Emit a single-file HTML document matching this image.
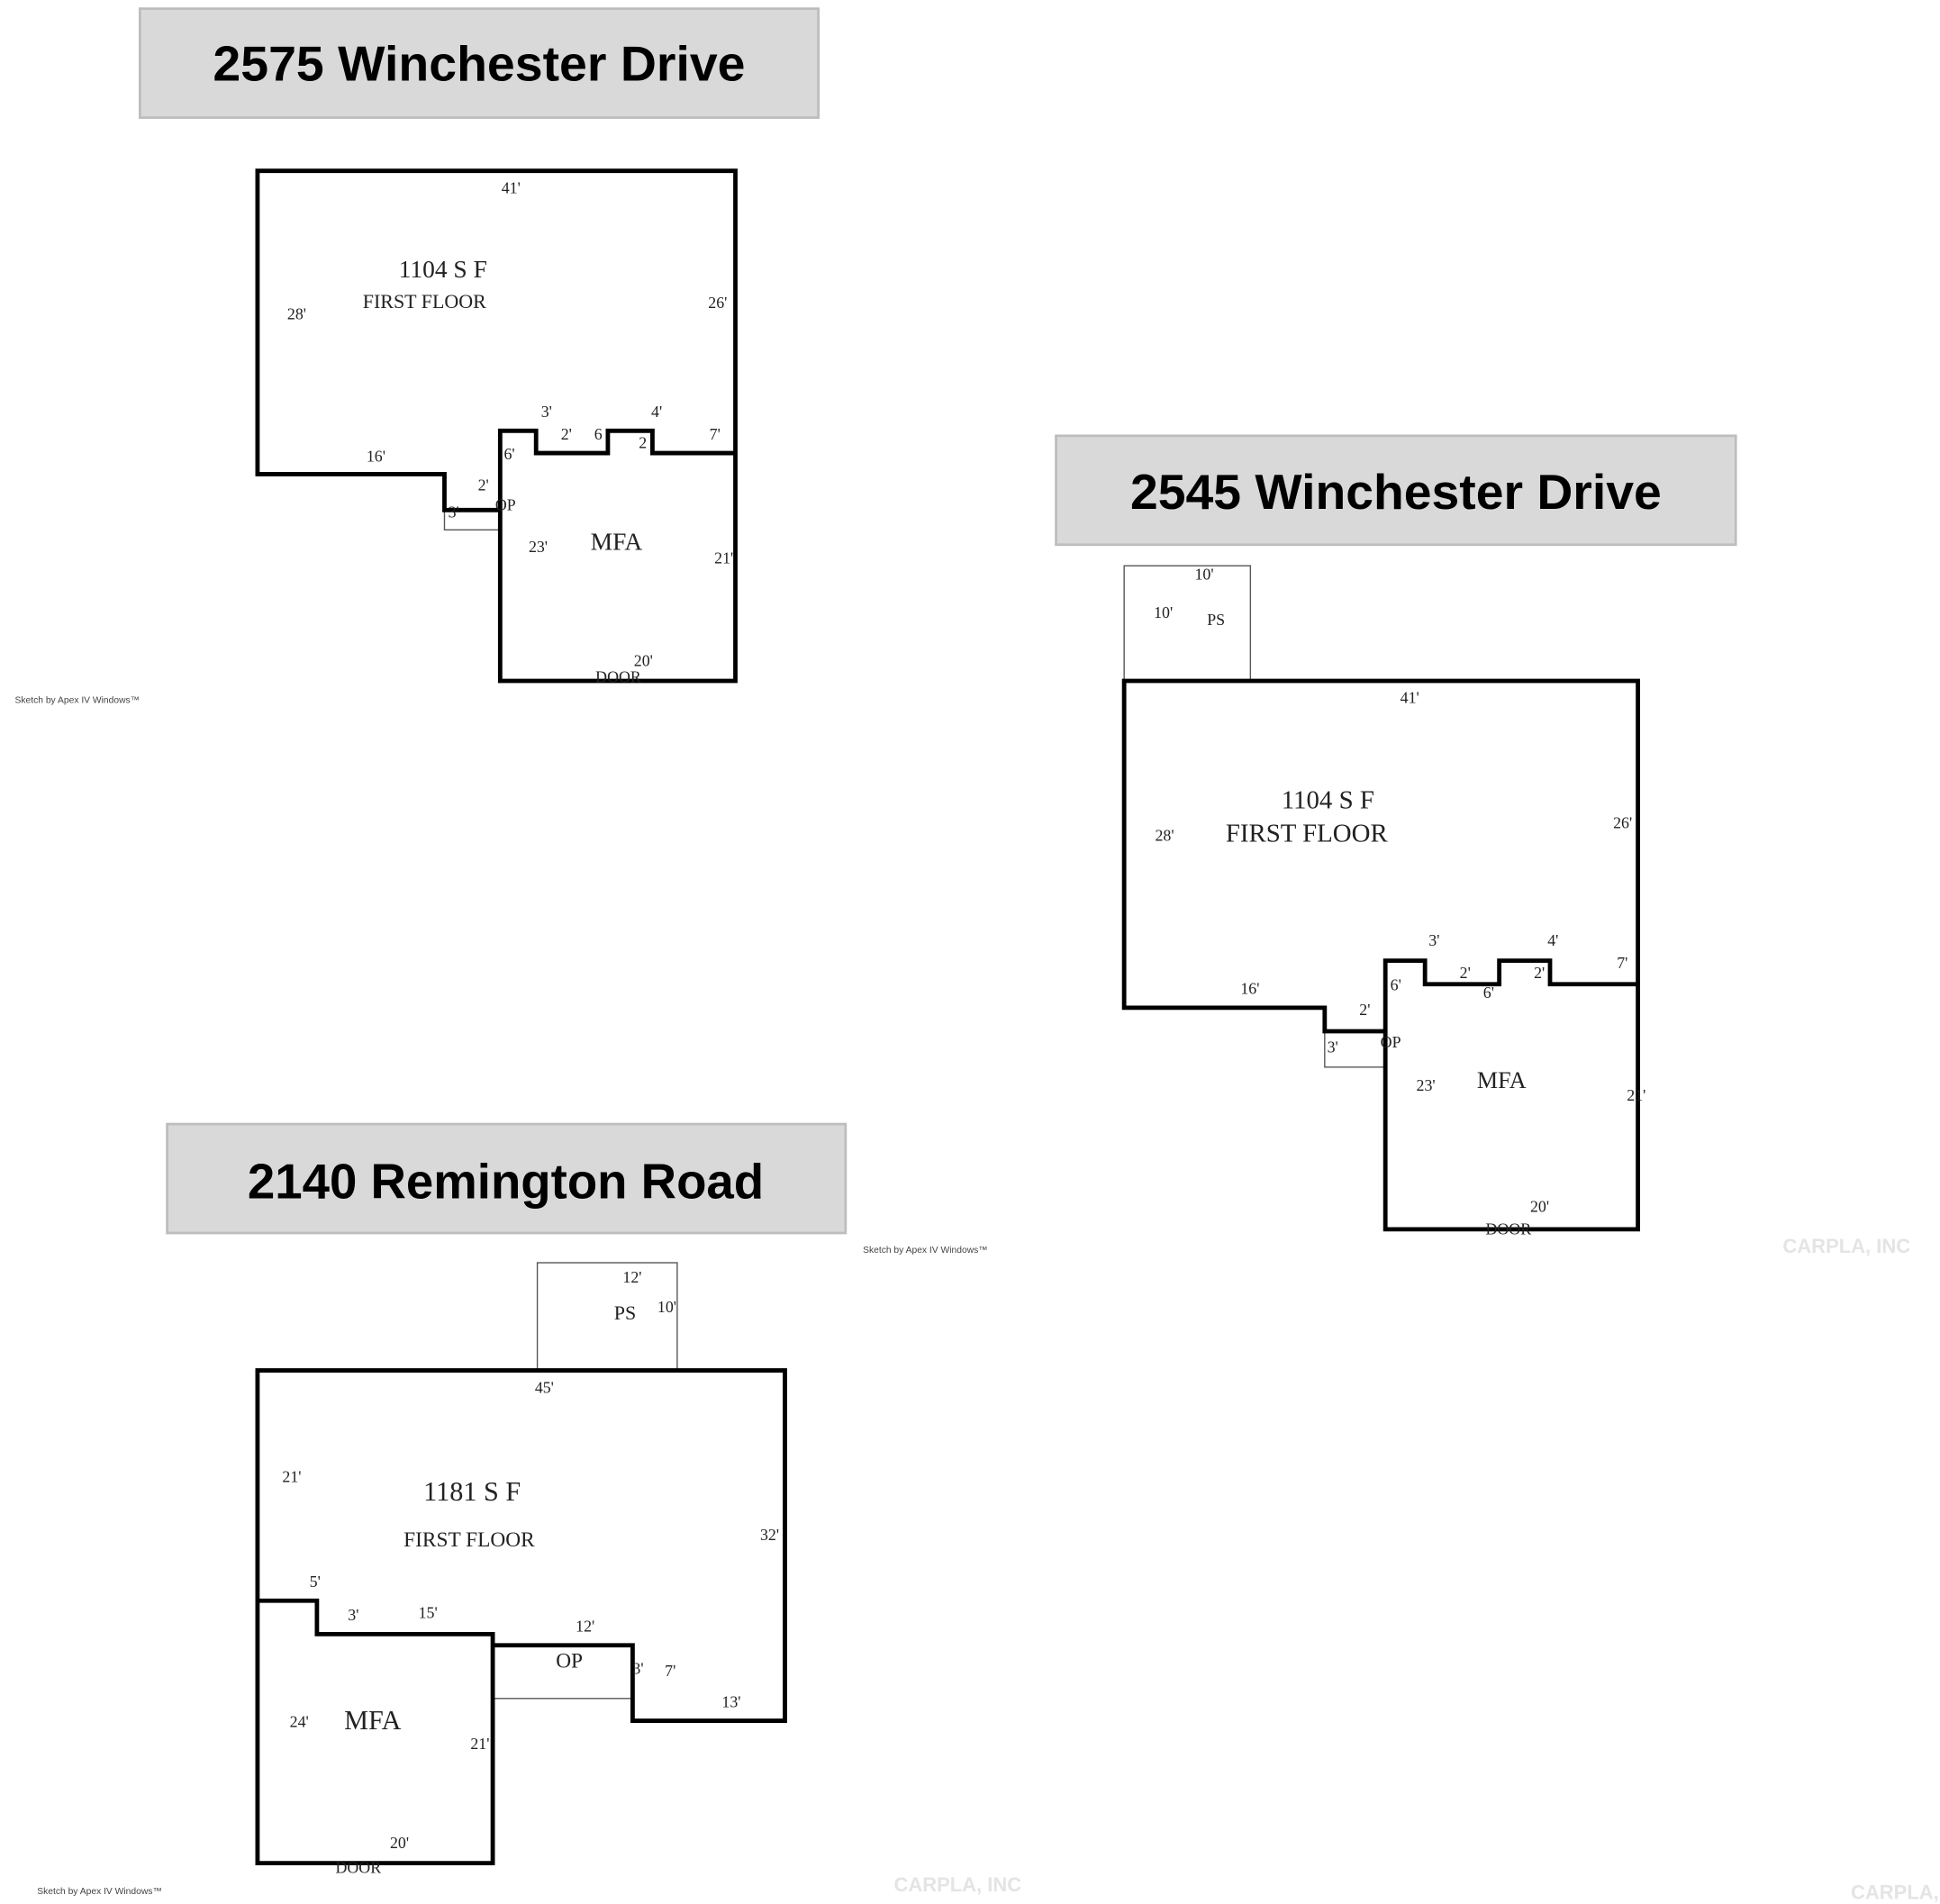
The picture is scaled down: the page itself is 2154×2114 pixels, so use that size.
<!DOCTYPE html>
<html><head><meta charset="utf-8"><style>
html,body{margin:0;padding:0;background:#fff;}
svg{display:block;}
.h{font-family:"Liberation Sans Narrow","Liberation Sans",sans-serif;font-weight:bold;font-size:40px;fill:#000;}
.t{font-family:"Liberation Serif",serif;fill:#222;font-size:13px;}
.m{font-family:"Liberation Serif",serif;fill:#222;}
.s{font-family:"Liberation Sans",sans-serif;fill:#444;font-size:7.5px;}
.w{font-family:"Liberation Sans",sans-serif;font-weight:bold;fill:#e4e4e4;font-size:16px;}
.k{fill:none;stroke:#000;stroke-width:3.5;stroke-linejoin:miter;stroke-linecap:square;}
.n{fill:none;stroke:#555;stroke-width:1;}
.hb{fill:#d9d9d9;stroke:#bdbdbd;stroke-width:2;}
</style></head><body>
<svg width="2154" height="2114" viewBox="0 0 1567 1538" preserveAspectRatio="none" xmlns="http://www.w3.org/2000/svg">
<rect width="1567" height="1538" fill="#fff"/>
<!-- Plan 1 -->
<rect class="hb" x="113" y="7" width="548" height="88"/>
<text class="h" x="172" y="65" textLength="430" lengthAdjust="spacingAndGlyphs">2575 Winchester Drive</text>
<rect class="n" x="359" y="412" width="45" height="16"/>
<path class="k" d="M208,138 H594 V550 H404 V348 H433 V366 H491 V348 H527 V366 H594 M404,412 H359 V383 H208 V138"/>
<text class="t" x="405" y="156">41'</text>
<text class="m" x="322" y="224" font-size="20">1104 S F</text>
<text class="m" x="293" y="249" font-size="16">FIRST FLOOR</text>
<text class="t" x="232" y="258">28'</text>
<text class="t" x="572" y="249">26'</text>
<text class="t" x="437" y="337">3'</text>
<text class="t" x="453" y="355">2'</text>
<text class="t" x="480" y="355">6</text>
<text class="t" x="526" y="337">4'</text>
<text class="t" x="516" y="362">2</text>
<text class="t" x="573" y="355">7'</text>
<text class="t" x="296" y="373">16'</text>
<text class="t" x="386" y="396">2'</text>
<text class="t" x="407" y="371">6'</text>
<text class="t" x="362" y="418">3'</text>
<text class="t" x="400" y="412">OP</text>
<text class="t" x="427" y="446">23'</text>
<text class="m" x="477" y="444" font-size="20">MFA</text>
<text class="t" x="577" y="455">21'</text>
<text class="t" x="512" y="538">20'</text>
<text class="t" x="481" y="551">DOOR</text>
<text class="s" x="12" y="568">Sketch by Apex IV Windows™</text>
<!-- Plan 2 -->
<rect class="hb" x="853" y="352" width="549" height="88"/>
<text class="h" x="913" y="411" textLength="429" lengthAdjust="spacingAndGlyphs">2545 Winchester Drive</text>
<rect class="n" x="908" y="457" width="102" height="93"/>
<text class="t" x="965" y="468">10'</text>
<text class="t" x="932" y="499">10'</text>
<text class="t" x="975" y="505">PS</text>
<rect class="n" x="1070" y="833" width="49" height="29"/>
<path class="k" d="M908,550 H1323 V993 H1119 V776 H1151 V795 H1211 V776 H1252 V795 H1323 M1119,833 H1070 V814 H908 V550"/>
<text class="t" x="1131" y="568">41'</text>
<text class="m" x="1035" y="653" font-size="21">1104 S F</text>
<text class="m" x="990" y="680" font-size="21">FIRST FLOOR</text>
<text class="t" x="933" y="679">28'</text>
<text class="t" x="1303" y="669">26'</text>
<text class="t" x="1154" y="764">3'</text>
<text class="t" x="1250" y="764">4'</text>
<text class="t" x="1306" y="782">7'</text>
<text class="t" x="1179" y="790">2'</text>
<text class="t" x="1239" y="790">2'</text>
<text class="t" x="1198" y="806">6'</text>
<text class="t" x="1123" y="800">6'</text>
<text class="t" x="1002" y="803">16'</text>
<text class="t" x="1098" y="820">2'</text>
<text class="t" x="1072" y="850">3'</text>
<text class="t" x="1115" y="846">OP</text>
<text class="t" x="1144" y="881">23'</text>
<text class="m" x="1193" y="879" font-size="19">MFA</text>
<text class="t" x="1314" y="889">21'</text>
<text class="t" x="1236" y="979">20'</text>
<text class="t" x="1200" y="997">DOOR</text>
<text class="w" x="1440" y="1012">CARPLA, INC</text>
<!-- Plan 3 -->
<rect class="hb" x="135" y="908" width="548" height="88"/>
<text class="h" x="200" y="968" textLength="417" lengthAdjust="spacingAndGlyphs">2140 Remington Road</text>
<text class="s" x="697" y="1012">Sketch by Apex IV Windows™</text>
<rect class="n" x="434" y="1020" width="113" height="87"/>
<text class="t" x="503" y="1036">12'</text>
<text class="m" x="496" y="1066" font-size="16">PS</text>
<text class="t" x="531" y="1060">10'</text>
<path class="n" d="M398,1372 H511"/>
<path class="k" d="M208,1107 H634 V1390 H511 V1329 H398 V1505 H208 V1107 M208,1293 H256 V1320 H398 V1329"/>
<text class="t" x="432" y="1125">45'</text>
<text class="t" x="228" y="1197">21'</text>
<text class="m" x="342" y="1212" font-size="22">1181 S F</text>
<text class="m" x="326" y="1249" font-size="17">FIRST FLOOR</text>
<text class="t" x="614" y="1244">32'</text>
<text class="t" x="250" y="1282">5'</text>
<text class="t" x="281" y="1309">3'</text>
<text class="t" x="338" y="1307">15'</text>
<text class="t" x="465" y="1318">12'</text>
<text class="m" x="449" y="1347" font-size="17">OP</text>
<text class="t" x="511" y="1352">3'</text>
<text class="t" x="537" y="1354">7'</text>
<text class="t" x="583" y="1379">13'</text>
<text class="t" x="234" y="1395">24'</text>
<text class="m" x="278" y="1397" font-size="22">MFA</text>
<text class="t" x="380" y="1413">21'</text>
<text class="t" x="315" y="1493">20'</text>
<text class="t" x="271" y="1513">DOOR</text>
<text class="s" x="30" y="1530">Sketch by Apex IV Windows™</text>
<text class="w" x="722" y="1528">CARPLA, INC</text>
<text class="w" x="1495" y="1534" font-size="12">CARPLA, INC</text>
</svg>
</body></html>
